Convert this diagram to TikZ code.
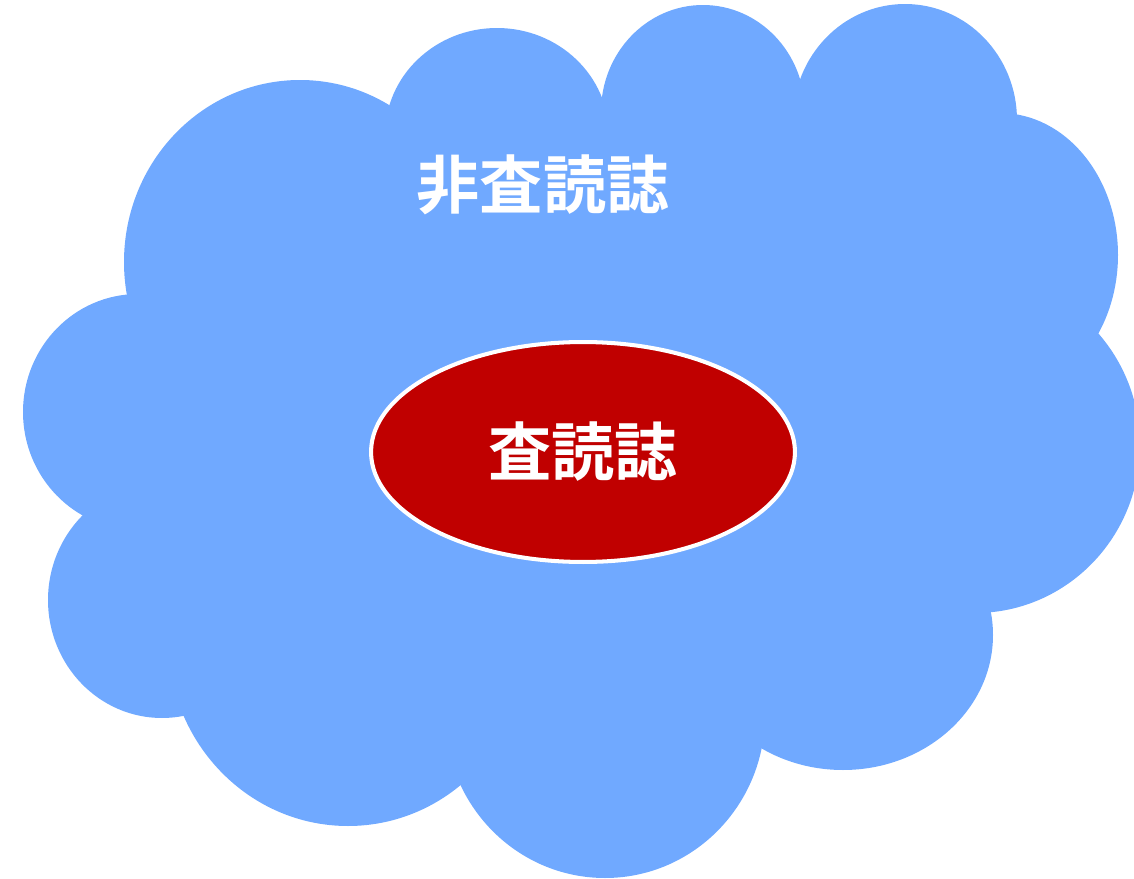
\documentclass[tikz,border=0pt]{standalone}
\usepackage{fontspec}
\usetikzlibrary{shapes.geometric}
\newfontfamily\jpfont{Noto Sans CJK JP}[BoldFont={* Bold}]
\definecolor{cloudblue}{HTML}{70A9FF}
\definecolor{peerred}{HTML}{C00000}
\begin{document}
\begin{tikzpicture}[x=0.02cm,y=-0.02cm,
    cloudpart/.style={fill=cloudblue,draw=none},
    label/.style={text=white,font=\jpfont\bfseries\fontsize{36}{40}\selectfont}]
            \useasboundingbox (0,0) rectangle (1134,879);
            % cloud
            \fill[cloudpart] (300,262) ellipse (176 and 182);
            \fill[cloudpart] (497,135) ellipse (112 and 107);
            \fill[cloudpart] (703,112) ellipse (102 and 107);
            \fill[cloudpart] (905,120) ellipse (112 and 116);
            \fill[cloudpart] (1000,255) ellipse (118 and 142);
            \fill[cloudpart] (975,445) ellipse (165 and 168);
            \fill[cloudpart] (843,635) ellipse (150 and 135);
            \fill[cloudpart] (605,715) ellipse (160 and 163);
            \fill[cloudpart] (348,640) ellipse (180 and 186);
            \fill[cloudpart] (162,600) ellipse (114 and 118);
            \fill[cloudpart] (138,412) ellipse (115 and 118);
            \fill[cloudpart] (590,420) ellipse (450 and 300);
            \fill[cloudpart] (790,220) ellipse (130 and 110);
            % labels
            \node[label] (nonpeer) at (543,185) {非査読誌};
            \node[ellipse,fill=peerred,draw=white,line width=2.3pt,
                  minimum width=8.48cm,minimum height=4.4cm] (peer) at (583,452) {};
            \node[label] (peertext) at (peer) {査読誌};
\end{tikzpicture}
\end{document}
